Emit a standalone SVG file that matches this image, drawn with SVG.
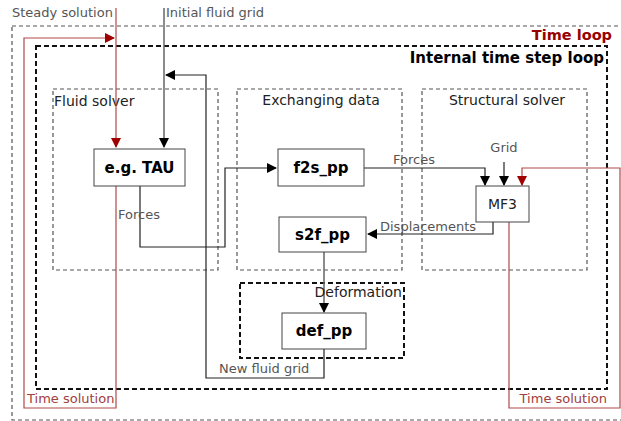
<svg xmlns="http://www.w3.org/2000/svg" width="621" height="421" viewBox="0 0 621 421">
<style>
text{font-family:"DejaVu Sans","Liberation Sans",sans-serif}
.lbl{font-size:13px;fill:#555}
.sec{font-size:14px;fill:#222}
.box{fill:#fff;stroke:#444;stroke-width:1}
.bt{font-size:15px;font-weight:bold;fill:#000;text-anchor:middle}
.dz{fill:none;stroke:#555;stroke-width:1.2;stroke-dasharray:4 3}
.dk{fill:none;stroke:#111;stroke-width:2;stroke-dasharray:5 3}
.k{fill:none;stroke:#222;stroke-width:1.2}
.g{fill:none;stroke:#666;stroke-width:1.5}
.r{fill:none;stroke:#b04848;stroke-width:1.2}
.red{font-size:13px;fill:#a04040}
</style>
<defs>
<marker id="ak" markerWidth="10" markerHeight="10" refX="9" refY="5" orient="auto" markerUnits="userSpaceOnUse"><path d="M0,0 L10,5 L0,10 Z" fill="#000"/></marker>
<marker id="ar" markerWidth="10" markerHeight="10" refX="9" refY="5" orient="auto" markerUnits="userSpaceOnUse"><path d="M0,0 L10,5 L0,10 Z" fill="#a00000"/></marker>
</defs>
<g id="time-loop">
<rect class="dz" x="12" y="26" width="620" height="394"/>
<text x="612" y="40" text-anchor="end" style="font-size:14.5px;font-weight:bold;fill:#990000">Time loop</text>
</g>
<g id="internal-loop">
<rect class="dk" x="36" y="46" width="571" height="343"/>
<text x="604" y="63" text-anchor="end" style="font-size:15px;font-weight:bold;fill:#000">Internal time step loop</text>
</g>
<g id="fluid-solver">
<rect class="dz" x="53" y="89" width="165" height="181"/>
<text class="sec" x="54" y="106">Fluid solver</text>
</g>
<g id="exchanging-data">
<rect class="dz" x="237" y="89" width="165" height="181"/>
<text class="sec" x="321" y="105" text-anchor="middle">Exchanging data</text>
</g>
<g id="structural-solver">
<rect class="dz" x="422" y="89" width="165" height="181"/>
<text class="sec" x="507" y="105" text-anchor="middle">Structural solver</text>
</g>
<g id="deformation">
<rect class="dk" x="240" y="283" width="164" height="75"/>
</g>
<g id="connectors">
<path class="r" d="M116,8 V147" marker-end="url(#ar)"/>
<path class="r" d="M116,186 V408 H24 V38 H114" marker-end="url(#ar)"/>
<path class="r" d="M509,222 V408 H620 V168 H522 V185" marker-end="url(#ar)"/>
<path class="g" d="M164,8 V147" marker-end="url(#ak)"/>
<path class="k" d="M324,349 V378 H206 V75 H166" marker-end="url(#ak)"/>
<path class="k" d="M140,186 V247 H225 V168 H276" marker-end="url(#ak)"/>
<path class="k" d="M364,168 H485 V185" marker-end="url(#ak)"/>
<path class="k" d="M504,162 V185" marker-end="url(#ak)"/>
<path class="k" d="M493,222 V234 H368" marker-end="url(#ak)"/>
<path class="g" d="M324,252 V312" marker-end="url(#ak)"/>
<text class="lbl" x="12" y="17">Steady solution</text>
<text class="lbl" x="166" y="17">Initial fluid grid</text>
<text class="lbl" x="118" y="219">Forces</text>
<text class="lbl" x="393" y="164">Forces</text>
<text class="lbl" x="504" y="152" text-anchor="middle">Grid</text>
<text class="lbl" x="380" y="231">Displacements</text>
<text class="lbl" x="402" y="297" text-anchor="end" style="font-size:14px;fill:#222">Deformation</text>
<text class="lbl" x="219" y="373">New fluid grid</text>
<text class="red" x="27" y="403">Time solution</text>
<text class="red" x="607" y="403" text-anchor="end">Time solution</text>
</g>
<g id="tau">
<rect class="box" x="94" y="149" width="91" height="37"/>
<text class="bt" x="139.5" y="173">e.g. TAU</text>
</g>
<g id="f2s_pp">
<rect class="box" x="278" y="149" width="86" height="37"/>
<text class="bt" x="321" y="173">f2s_pp</text>
</g>
<g id="s2f_pp">
<rect class="box" x="279" y="217" width="87" height="35"/>
<text class="bt" x="322.5" y="240">s2f_pp</text>
</g>
<g id="mf3">
<rect class="box" x="476" y="186" width="53" height="36"/>
<text x="502.5" y="209" text-anchor="middle" style="font-size:14px;fill:#222">MF3</text>
</g>
<g id="def_pp">
<rect class="box" x="282" y="313" width="84" height="36"/>
<text class="bt" x="324" y="336">def_pp</text>
</g>
</svg>
